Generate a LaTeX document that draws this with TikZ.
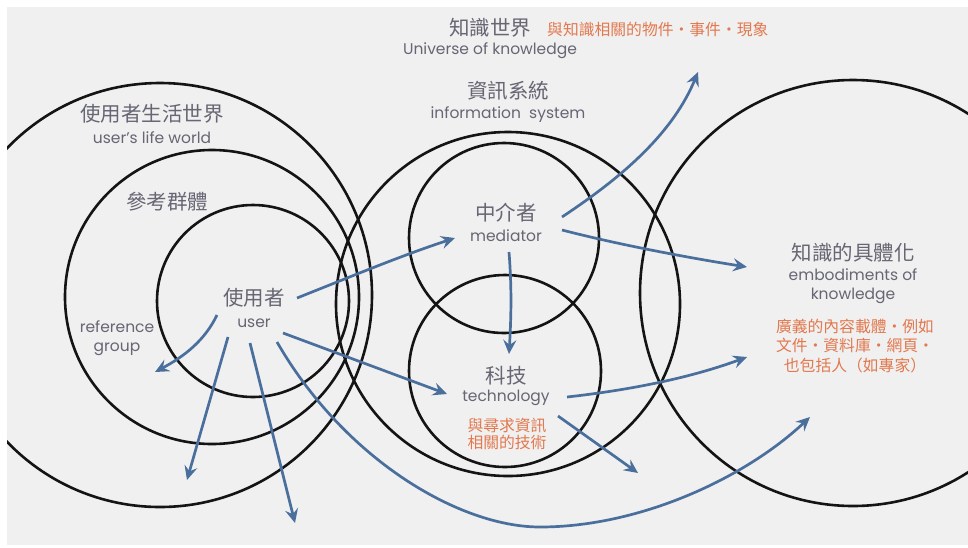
\documentclass[tikz,border=0pt]{standalone}
\usepackage{fontspec}
\setmainfont{Poppins}
\newfontfamily\cjk{Noto Sans CJK TC}
\usetikzlibrary{arrows.meta}
\definecolor{bgc}{HTML}{F0F0F0}
\definecolor{txt}{HTML}{666674}
\definecolor{orng}{HTML}{E2784E}
\definecolor{arrowc}{HTML}{4A6F9C}
\definecolor{ringc}{HTML}{141414}
\begin{document}
\begin{tikzpicture}[x=1pt,y=-1pt,
  ring/.style={draw=ringc, line width=2.6pt, circle, minimum size=#1, inner sep=0pt},
  flow/.style={draw=arrowc, line width=2.7pt, -{Stealth[length=14pt,width=13pt,inset=5pt]}},
  zh/.style={text=txt, font=\cjk\fontsize{20.5}{22}\selectfont, inner sep=0pt},
  en/.style={text=txt, font=\fontsize{15.5}{19}\selectfont, inner sep=0pt},
  note/.style={text=orng, font=\cjk\fontsize{15.8}{19.5}\selectfont, inner sep=0pt, align=center},
]
\useasboundingbox (0,0) rectangle (968,547);
\fill[white] (0,0) rectangle (968,547);
\fill[bgc] (7,7) rectangle (968,545);
\begin{scope}
\clip (7,7) rectangle (968,545);
\node[ring=424pt] (lifeworld) at (160,295) {};
\node[ring=294pt] (refgroup) at (212,297) {};
\node[ring=192pt] (usercirc) at (253,301) {};
\node[ring=344pt] (infosys) at (508,304) {};
\node[ring=190pt] (medcirc) at (504,238) {};
\node[ring=192pt] (techcirc) at (505,371) {};
\node[ring=426pt] (embcirc) at (853,293) {};
\end{scope}

% texts
\node[zh] (tKW) at (490,28) {知識世界};
\node[note, anchor=west] (tKWn) at (547,30) {與知識相關的物件・事件・現象};
\node[en] (tKWe) at (490,51) {Universe of knowledge};
\node[zh] (tIS) at (508,91) {資訊系統};
\node[en] (tISe) at (508,115) {information\ \ system};
\node[zh] (tLW) at (152,114) {使用者生活世界};
\node[en] (tLWe) at (152,138) {user's life world};
\node[zh] (tRG) at (167,202) {參考群體};
\node[en, align=center] (tRGe) at (117,338) {reference\\group};
\node[zh] (tU) at (254,298) {使用者};
\node[en] (tUe) at (254,323) {user};
\node[zh] (tM) at (506,213) {中介者};
\node[en] (tMe) at (506,236) {mediator};
\node[zh] (tT) at (506,376) {科技};
\node[en] (tTe) at (506,398) {technology};
\node[note, font=\cjk\fontsize{15.8}{17.5}\selectfont] (tTn) at (507,434) {與尋求資訊\\相關的技術};
\node[zh] (tE) at (853,253) {知識的具體化};
\node[en, align=center] (tEe) at (853,286) {embodiments of\\knowledge};
\node[note] (tEn) at (855,346) {廣義的內容載體・例如\\文件・資料庫・網頁・\\也包括人（如專家）};

% arrow end points
\coordinate (uM) at (297,298);
\coordinate (uRG) at (217,315);
\coordinate (uD1) at (228,337);
\coordinate (uD2) at (250,343);
\coordinate (uC) at (277,342);
\coordinate (uT) at (283,333);
\coordinate (mIn) at (455,238);
\coordinate (mUp) at (562,217);
\coordinate (mRt) at (562,230);
\coordinate (mDn) at (509,252);
\coordinate (tIn) at (509,354);
\coordinate (tIn2) at (447,394);
\coordinate (tRt) at (567,397);
\coordinate (tDn) at (558,416);
\coordinate (kwEnd) at (698,72);
\coordinate (eEnd1) at (747,267);
\coordinate (eEnd2) at (747,357);
\coordinate (eEnd3) at (810,417);
\coordinate (rgEnd) at (155,372);
\coordinate (d1End) at (187,480);
\coordinate (d2End) at (295,523);
\coordinate (tEnd) at (638,473);
\coordinate (cMid) at (540,527);

\draw[flow] (uM) .. controls (350,277) and (400,256) .. (mIn);
\draw[flow] (mUp) .. controls (610,185) and (670,140) .. (kwEnd);
\draw[flow] (mRt) .. controls (620,245) and (690,258) .. (eEnd1);
\draw[flow] (mDn) .. controls (512,290) and (511,320) .. (tIn);
\draw[flow] (uT) -- (tIn2);
\draw[flow] (uRG) .. controls (205,340) and (185,356) .. (rgEnd);
\draw[flow] (uD1) -- (d1End);
\draw[flow] (uD2) -- (d2End);
\draw[flow] (uC) .. controls (345,460) and (460,527) .. (cMid)
  .. controls (640,527) and (745,478) .. (eEnd3);
\draw[flow] (tRt) .. controls (630,390) and (690,378) .. (eEnd2);
\draw[flow] (tDn) -- (tEnd);
\end{tikzpicture}
\end{document}
